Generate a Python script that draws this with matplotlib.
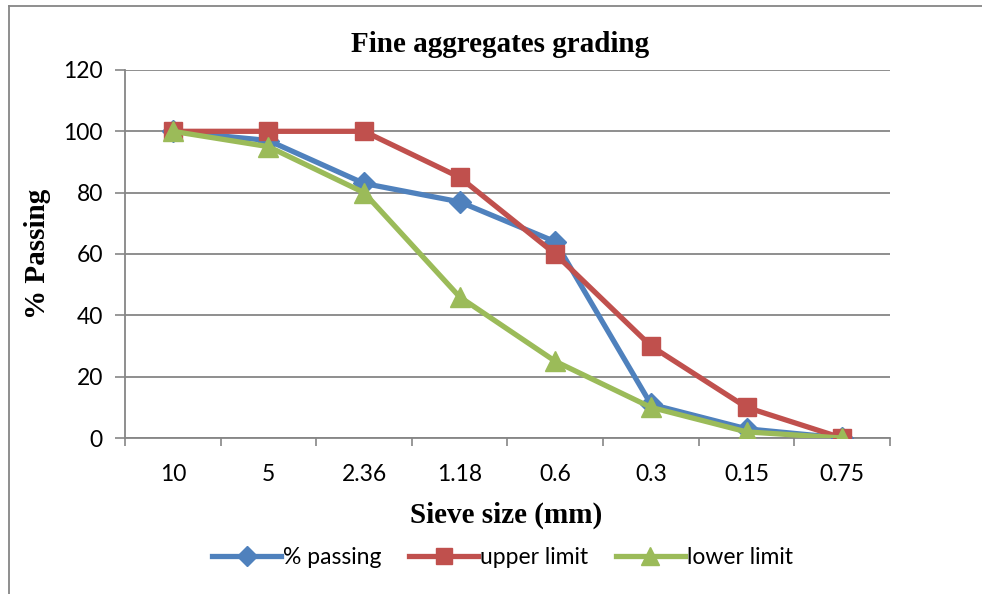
import matplotlib.pyplot as plt
from matplotlib.lines import Line2D

# sieve sizes (category labels) and % passing per series
sieves = ['10', '5', '2.36', '1.18', '0.6', '0.3', '0.15', '0.75']
passing = [100, 97, 83, 77, 64, 11, 3, 0]
upper_limit = [100, 100, 100, 85, 60, 30, 10, 0]
lower_limit = [100, 95, 80, 46, 25, 10, 2, 0]

blue = '#4F81BD'
red = '#C0504D'
green = '#9BBB59'
grey = '#868686'

fig = plt.figure(figsize=(9.82, 5.94), dpi=100)
ax = fig.add_axes([0.1273, 0.2626, 0.7790, 0.6196])

x = list(range(len(sieves)))
ax.plot(x, passing, color=blue, lw=3.8, marker='D', ms=11, label='% passing', zorder=3)
ax.plot(x, upper_limit, color=red, lw=3.8, marker='s', ms=13, label='upper limit', zorder=4)
ax.plot(x, lower_limit, color=green, lw=3.8, marker='^', ms=14, label='lower limit', zorder=5)

ax.set_xlim(-0.5, len(sieves) - 0.5)
ax.set_ylim(0, 120)
ax.set_yticks(range(0, 121, 20))
ax.set_xticks(x)
ax.set_xticklabels(sieves)
ax.set_xticks([i - 0.5 for i in range(len(sieves) + 1)], minor=True)
ax.tick_params(axis='x', which='major', length=0, pad=19)
ax.tick_params(axis='x', which='minor', length=6, color=grey, width=1.2)
ax.tick_params(axis='y', length=7, color=grey, width=1.2, pad=9)
for lab in ax.get_xticklabels() + ax.get_yticklabels():
    lab.set_family('Lato')
    lab.set_fontsize(16.5)

ax.grid(axis='y', color=grey, lw=1.3)
ax.set_axisbelow(True)
for side in ('top', 'right'):
    ax.spines[side].set_visible(False)
for side in ('left', 'bottom'):
    ax.spines[side].set_color(grey)
    ax.spines[side].set_linewidth(1.3)

fig.text(0.509, 0.925, 'Fine aggregates grading', ha='center', va='center',
         family='Liberation Serif', weight='bold', fontsize=21)
fig.text(0.038, 0.572, '% Passing', ha='center', va='center', rotation=90,
         family='Liberation Serif', weight='bold', fontsize=21)
fig.text(0.515, 0.133, 'Sieve size (mm)', ha='center', va='center',
         family='Liberation Serif', weight='bold', fontsize=21)

handles = [
    Line2D([], [], color=blue, lw=3.8, marker='D', ms=10),
    Line2D([], [], color=red, lw=3.8, marker='s', ms=12),
    Line2D([], [], color=green, lw=3.8, marker='^', ms=13),
]
fig.legend(handles, ['% passing', 'upper limit', 'lower limit'], loc='center',
           bbox_to_anchor=(0.512, 0.062), ncol=3, frameon=False, handlelength=3.0,
           handletextpad=0.1, columnspacing=1.2, prop={'family': 'Lato', 'size': 16.5})

# chart frame edges
fig.add_artist(Line2D([0.0092, 0.0092], [0, 0.99], color=grey, lw=1.3))
fig.add_artist(Line2D([0.0092, 1.0], [0.99, 0.99], color=grey, lw=1.3))

fig.savefig('out.png', dpi=100)
